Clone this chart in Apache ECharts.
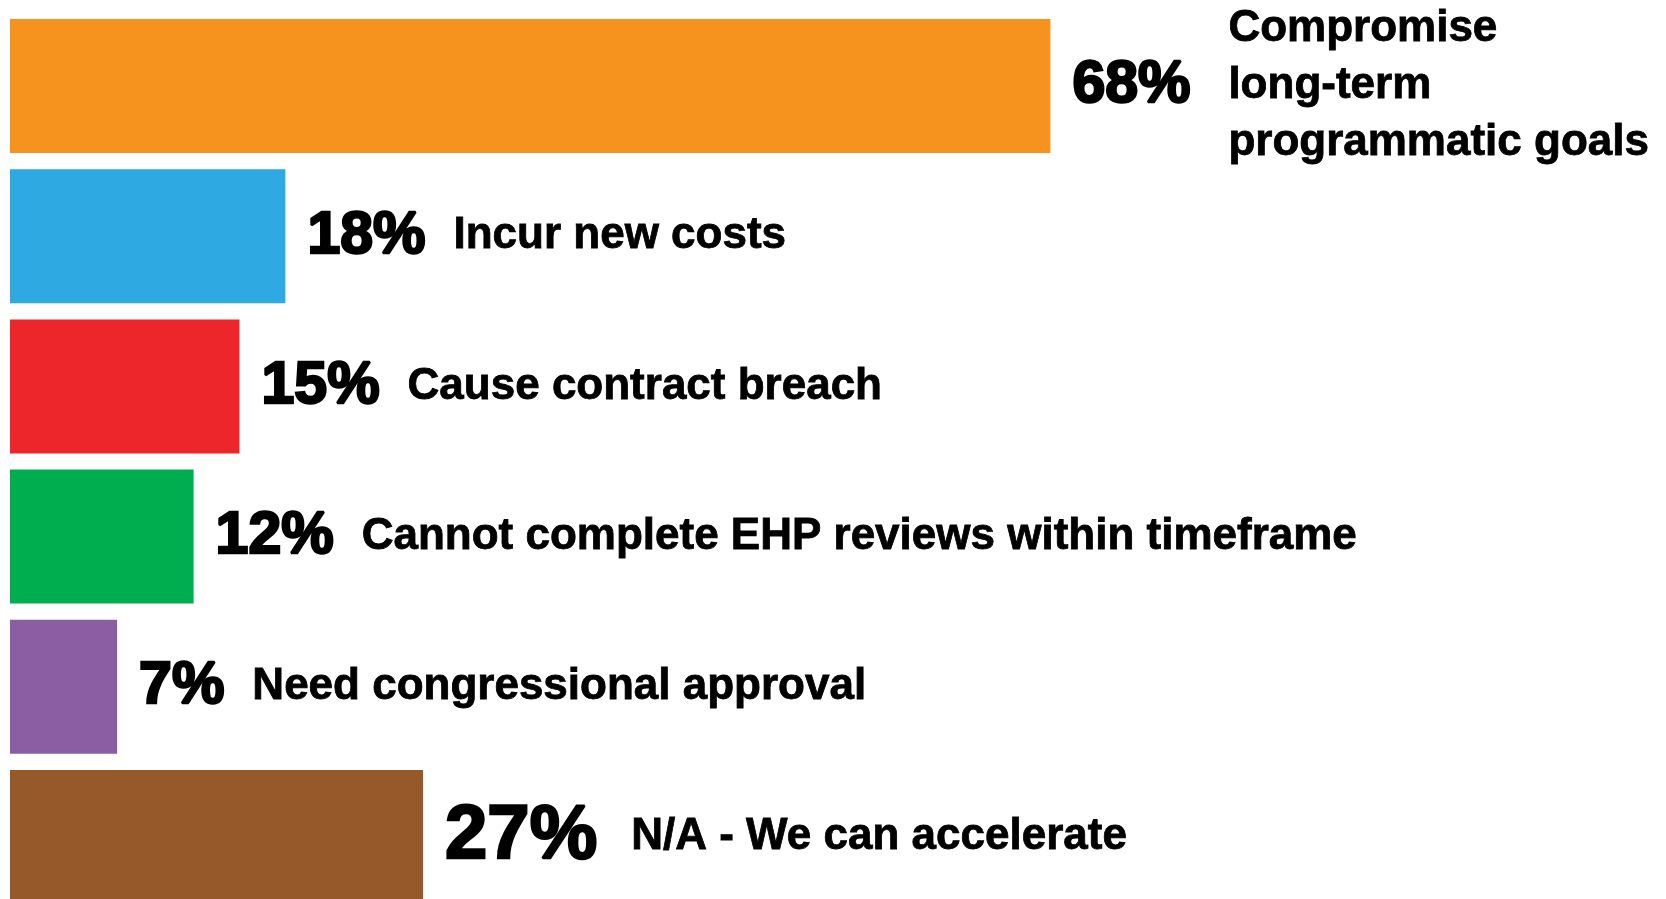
<!DOCTYPE html>
<html>
<head>
<meta charset="utf-8">
<script src="https://cdn.jsdelivr.net/npm/echarts@6/dist/echarts.min.js"></script>
<style>
  html, body { margin: 0; padding: 0; background: #fff; overflow: hidden; }
  /* taller than the window: the last bar runs off the bottom edge */
  #chart { width: 1666px; height: 912px; }
</style>
</head>
<body>
<div id="chart"></div>
<script>
// answers, top to bottom
const categories = [
  'Compromise\nlong-term\nprogrammatic goals',
  'Incur new costs',
  'Cause contract breach',
  'Cannot complete EHP reviews within timeframe',
  'Need congressional approval',
  'N/A - We can accelerate'
];
const shares = [68, 18, 15, 12, 7, 27];
const barColors = ['#F6921E', '#2EA9E1', '#EC262B', '#00AE4F', '#8B5EA4', '#965A2A'];

const chart = echarts.init(document.getElementById('chart'), null, { renderer: 'canvas' });

const labelFont = "'Liberation Sans', Arial, sans-serif";

// heavy percentages: bold face plus a thin outline in the same colour
const pctBase = {
  fontFamily: labelFont,
  fontWeight: 'bold',
  color: '#000',
  textBorderColor: '#000',
  textBorderWidth: 2.5
};

const richStyles = {
  p: { ...pctBase, fontSize: 59, padding: [0, 28, 0, 0] },
  pBig: { ...pctBase, fontSize: 76, padding: [0, 34, 0, 0] },
  pWide: { ...pctBase, fontSize: 59, width: 156, lineHeight: 57 },
  gap: { width: 156, lineHeight: 57 },
  t: {
    fontFamily: labelFont,
    fontWeight: 'bold',
    fontSize: 44,
    color: '#000',
    textBorderColor: '#000',
    textBorderWidth: 0.8,
    lineHeight: 57
  }
};

// the last answer gets the larger percentage
const bigIndex = shares.length - 1;

const labelText = (idx) => {
  const v = shares[idx] + '%';
  const lines = categories[idx].split('\n');
  if (lines.length > 1) {
    // percent sits on the middle line
    return lines.map((ln, i) => (i === 1 ? `{pWide|${v}}` : '{gap|}') + `{t|${ln}}`).join('\n');
  }
  return `{${idx === bigIndex ? 'pBig' : 'p'}|${v}}{t|${lines[0]}}`;
};

const option = {
  backgroundColor: '#fff',
  animation: false,
  grid: { left: 10, top: 11, right: 126, bottom: 0, containLabel: false },
  xAxis: { type: 'value', min: 0, max: 100, show: false },
  yAxis: { type: 'category', data: categories, inverse: true, show: false },
  series: [{
    type: 'bar',
    barWidth: 134,
    data: shares.map((v, i) => ({ value: v, itemStyle: { color: barColors[i] } })),
    label: {
      show: true,
      position: 'right',
      distance: 22,
      formatter: (params) => labelText(params.dataIndex),
      rich: richStyles
    }
  }]
};

chart.setOption(option);
</script>
</body>
</html>
